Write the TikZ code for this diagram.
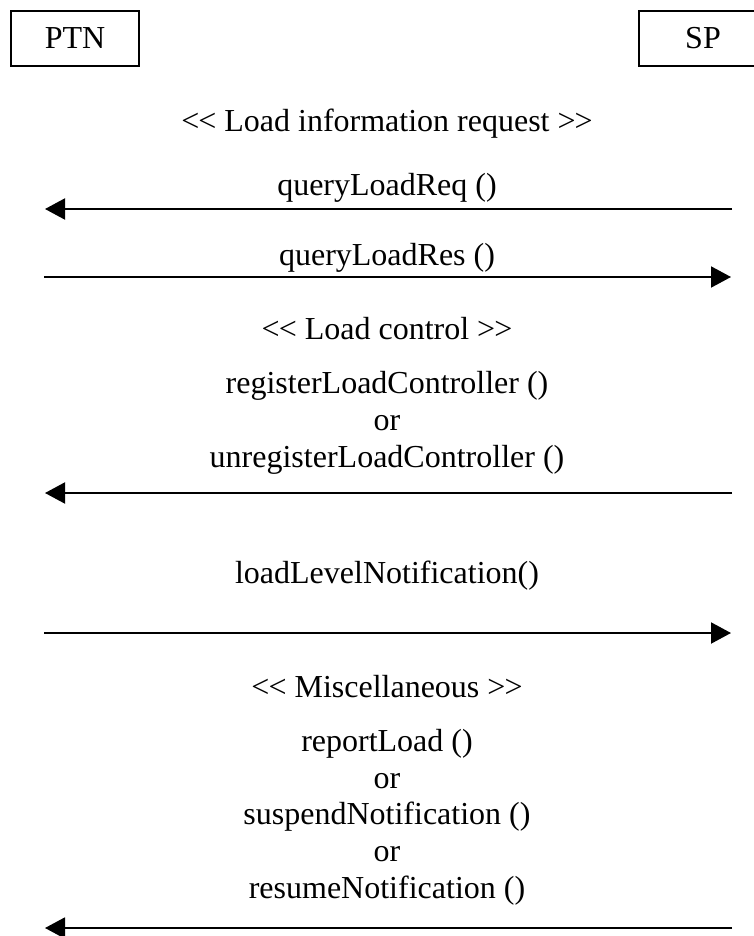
\documentclass[tikz,border=0pt]{standalone}
\usepackage{fontspec}
\setmainfont{Liberation Serif}
\usetikzlibrary{arrows.meta}
\begin{document}
\begin{tikzpicture}[x=1pt,y=-1pt,
  lbl/.style={anchor=base, inner sep=0pt, font=\fontsize{32}{37}\selectfont},
  actor/.style={draw, line width=1.5pt, minimum width=128pt, minimum height=55pt, inner sep=0pt, font=\fontsize{32}{37}\selectfont},
  msg/.style={line width=2pt, -{Triangle[length=20pt,width=21pt]}}]
\useasboundingbox (0,0) rectangle (754,936);
% actors
\node[actor] (ptn) at (75,38.5) {PTN};
\node[actor] (sp) at (703,38.5) {SP};
% coordinates
\def\xc{387}
\coordinate (l1) at (45,209);  \coordinate (r1) at (732,209);
\coordinate (l2) at (44,277);  \coordinate (r2) at (731,277);
\coordinate (l3) at (45,493);  \coordinate (r3) at (732,493);
\coordinate (l4) at (44,633);  \coordinate (r4) at (731,633);
\coordinate (l5) at (45,928);  \coordinate (r5) at (732,928);
% labels
\node[lbl] (h1) at (\xc,132) {<\kern-1pt< Load information request >\kern-1pt>};
\node[lbl] (m1) at (\xc,196) {queryLoadReq ()};
\node[lbl] (m2) at (\xc,265) {queryLoadRes ()};
\node[lbl] (h2) at (\xc,339) {<\kern-1pt< Load control >\kern-1pt>};
\node[lbl] (m3a) at (\xc,393) {registerLoadController ()};
\node[lbl] (m3b) at (\xc,430) {or};
\node[lbl] (m3c) at (\xc,467) {unregisterLoadController ()};
\node[lbl] (m4) at (\xc,583) {loadLevelNotification()};
\node[lbl] (h3) at (\xc,697) {<\kern-1pt< Miscellaneous >\kern-1pt>};
\node[lbl] (m5a) at (\xc,751) {reportLoad ()};
\node[lbl] (m5b) at (\xc,788) {or};
\node[lbl] (m5c) at (\xc,824) {suspendNotification ()};
\node[lbl] (m5d) at (\xc,861) {or};
\node[lbl] (m5e) at (\xc,898) {resumeNotification ()};
% messages
\draw[msg] (r1) -- (l1);
\draw[msg] (l2) -- (r2);
\draw[msg] (r3) -- (l3);
\draw[msg] (l4) -- (r4);
\draw[msg] (r5) -- (l5);
\end{tikzpicture}
\end{document}
